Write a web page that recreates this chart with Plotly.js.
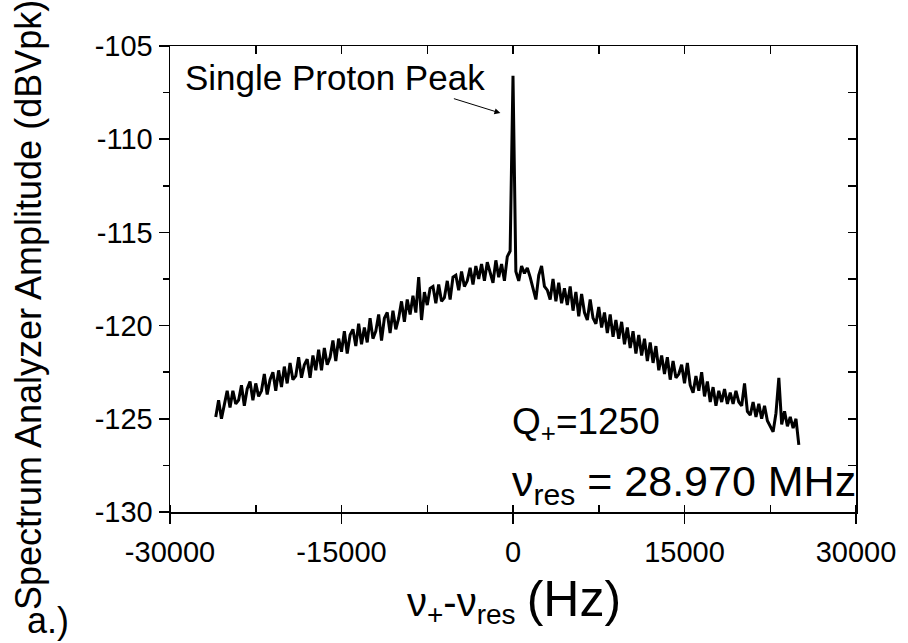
<!DOCTYPE html>
<html>
<head>
<meta charset="utf-8">
<script src="https://cdn.plot.ly/plotly-3.0.1.min.js"></script>
<style>html,body{margin:0;padding:0;background:#fff;}#chart{width:908px;height:643px;}</style>
</head>
<body>
<div id="chart"></div>
<script>
// Frequency grid of the spectrum analyzer trace (Hz offset from nu_res)
const FREQ_START = -26000;
const FREQ_STEP = 250;

// Amplitude (dBVpk), one value per FREQ_STEP from FREQ_START
const AMP_LEFT = [
  -124.9, -124.0, -125.0, -124.2,
  -123.5, -124.4, -123.5, -124.2,
  -124.0, -123.2, -124.3, -123.4,
  -123.0, -124.0, -123.1, -123.8,
  -123.5, -122.6, -123.7, -122.9,
  -122.5, -123.5, -122.4, -123.3,
  -122.2, -123.1, -122.0, -122.9,
  -122.7, -121.7, -122.8, -122.1,
  -121.8, -122.8, -121.6, -122.4,
  -121.3, -122.4, -121.2, -122.1,
  -121.7, -120.8, -121.9, -120.7,
  -121.4, -120.3, -121.5, -120.5,
  -120.2, -121.1, -119.9, -121.0,
  -120.1, -120.9, -119.6, -120.7,
  -120.3, -119.4, -120.8, -119.6,
  -119.3, -120.4, -119.2, -120.2,
  -119.6, -118.7, -119.8, -118.6,
  -119.4, -118.4, -119.3, -117.4,
  -119.7, -118.2, -118.9, -118.0,
  -117.9, -118.8, -117.8, -118.7,
  -118.5, -117.6, -118.6, -117.4,
  -117.3, -118.1, -117.1, -117.9,
  -117.6, -116.9, -117.8, -116.8,
  -117.5, -116.7, -117.6, -116.6,
  -117.2, -117.7, -116.5, -117.4,
  -116.7, -117.6, -116.3, -116.0
];
const AMP_PEAK = [-106.6];
const AMP_RIGHT = [
  -117.1, -117.6, -116.8, -117.2,
  -116.9, -117.4, -118.0, -118.6,
  -117.3, -116.8, -117.9, -118.1,
  -118.6, -117.5, -118.7, -117.7,
  -118.8, -118.0, -118.9, -117.9,
  -119.2, -118.2, -119.5, -118.3,
  -119.3, -119.7, -118.6, -119.6,
  -119.9, -119.0, -120.1, -119.3,
  -120.4, -119.4, -120.6, -119.7,
  -120.7, -119.8, -121.0, -120.1,
  -121.2, -120.3, -121.5, -120.5,
  -121.6, -120.7, -121.9, -120.9,
  -122.0, -121.1, -122.4, -121.6,
  -122.6, -121.7, -122.9, -121.9,
  -122.8, -122.6, -122.1, -123.1,
  -122.0, -123.2, -123.6, -122.7,
  -123.5, -122.5, -123.8, -123.0,
  -124.1, -123.3, -124.3, -123.5,
  -124.1, -123.4, -124.2, -123.6,
  -124.2, -123.5, -124.1, -124.3,
  -123.1, -124.6, -124.8, -124.1,
  -124.9, -124.2, -125.0, -124.3,
  -125.1, -125.4, -125.7, -124.7,
  -122.8, -125.3, -124.6, -125.4,
  -124.9, -125.5, -125.0, -126.4
];

const X_RANGE = [-30000, 30000];
const Y_RANGE = [-130, -105];
const X_TICK_VALS = [-30000, -15000, 0, 15000, 30000];
const X_TICK_LABELS = ['-30000', '-15000', '0', '15000', '30000'];
const X_ALL_TICKS = [-30000, -22500, -15000, -7500, 0, 7500, 15000, 22500, 30000];
const Y_TICK_VALS = [-130, -125, -120, -115, -110, -105];
const Y_TICK_LABELS = ['-130', '-125', '-120', '-115', '-110', '-105'];
const Y_ALL_TICKS = [-130, -127.5, -125, -122.5, -120, -117.5, -115, -112.5, -110, -107.5, -105];

const amp = AMP_LEFT.concat(AMP_PEAK, AMP_RIGHT);
const FONT = 'Liberation Sans, Arial, sans-serif';

const traces = [
  {
    type: 'scatter', mode: 'lines',
    x0: FREQ_START, dx: FREQ_STEP, y: amp,
    line: {color: '#000', width: 3},
    hoverinfo: 'skip', showlegend: false
  },
  {
    type: 'scatter', mode: 'lines',
    x0: FREQ_START, dx: FREQ_STEP, y: amp,
    xaxis: 'x2', yaxis: 'y2',
    line: {color: 'rgba(0,0,0,0)', width: 0},
    hoverinfo: 'skip', showlegend: false
  }
];

const layout = {
  width: 908, height: 643,
  margin: {l: 170, r: 52, t: 46, b: 131},
  paper_bgcolor: '#fff', plot_bgcolor: '#fff',
  showlegend: false,
  font: {family: FONT, color: '#000'},
  xaxis: {
    range: X_RANGE, tickmode: 'array', tickvals: X_TICK_VALS, ticktext: X_TICK_LABELS,
    ticks: 'outside', ticklen: 10, tickwidth: 1.5, tickcolor: '#000',
    minor: {tickmode: 'array', tickvals: X_ALL_TICKS, ticks: 'inside', ticklen: 7, tickwidth: 1.5, tickcolor: '#000', showgrid: false},
    showline: true, linecolor: '#000', linewidth: 1.5,
    showgrid: false, zeroline: false,
    tickfont: {family: FONT, size: 29, color: '#000'},
    ticklabelstandoff: 4
  },
  yaxis: {
    range: Y_RANGE, tickmode: 'array', tickvals: Y_TICK_VALS, ticktext: Y_TICK_LABELS,
    ticks: 'outside', ticklen: 10, tickwidth: 1.5, tickcolor: '#000',
    minor: {tickmode: 'array', tickvals: Y_ALL_TICKS, ticks: 'outside', ticklen: 6, tickwidth: 1.5, tickcolor: '#000', showgrid: false},
    showline: true, linecolor: '#000', linewidth: 1.5,
    showgrid: false, zeroline: false,
    tickfont: {family: FONT, size: 29, color: '#000'}
  },
  xaxis2: {
    range: X_RANGE, overlaying: 'x', side: 'top', anchor: 'y2',
    tickmode: 'array', tickvals: X_ALL_TICKS, showticklabels: false,
    ticks: 'inside', ticklen: 8, tickwidth: 1.5, tickcolor: '#000',
    showline: true, linecolor: '#000', linewidth: 1.5,
    showgrid: false, zeroline: false
  },
  yaxis2: {
    range: Y_RANGE, overlaying: 'y', side: 'right', anchor: 'x2',
    tickmode: 'array', tickvals: Y_ALL_TICKS, showticklabels: false,
    ticks: 'inside', ticklen: 8, tickwidth: 1.5, tickcolor: '#000',
    showline: true, linecolor: '#000', linewidth: 1.5,
    showgrid: false, zeroline: false
  },
  annotations: [
    {
      text: 'Single Proton Peak', xref: 'x', yref: 'y', x: -28900, y: -106.7,
      xanchor: 'left', yanchor: 'middle', showarrow: false,
      font: {family: FONT, size: 35, color: '#000'}
    },
    {
      text: '', xref: 'x', yref: 'y', x: -1100, y: -108.6,
      axref: 'x', ayref: 'y', ax: -5300, ay: -107.8,
      showarrow: true, arrowhead: 2, arrowsize: 1.2, arrowwidth: 1, arrowcolor: '#000', standoff: 0
    },
    {
      text: 'Q<sub>+</sub>=1250', xref: 'x', yref: 'y', x: -300, y: -125.3,
      xanchor: 'left', yanchor: 'middle', showarrow: false,
      font: {family: FONT, size: 37, color: '#000'}
    },
    {
      text: 'ν<sub>res</sub> = 28.970 MHz', xref: 'x', yref: 'y', x: -300, y: -128.5,
      xanchor: 'left', yanchor: 'middle', showarrow: false,
      font: {family: FONT, size: 43, color: '#000'}
    },
    {
      text: 'ν<sub>+</sub>-ν<sub>res</sub> <span style="font-size:50px">(Hz)</span>',
      xref: 'paper', yref: 'paper', x: 0.502, y: -0.19,
      xanchor: 'center', yanchor: 'middle', showarrow: false,
      font: {family: FONT, size: 40, color: '#000'}
    },
    {
      text: 'a.)', xref: 'paper', yref: 'paper', x: -0.212, y: -0.232,
      xanchor: 'left', yanchor: 'middle', showarrow: false,
      font: {family: FONT, size: 36, color: '#000'}
    },
    {
      text: 'Spectrum Analyzer Amplitude (dBVpk)', xref: 'paper', yref: 'paper',
      x: -0.207, y: 0.444, xanchor: 'center', yanchor: 'middle', textangle: -90,
      showarrow: false, font: {family: FONT, size: 36, color: '#000'}
    }
  ]
};

Plotly.newPlot('chart', traces, layout, {displayModeBar: false, staticPlot: true});
</script>
</body>
</html>
